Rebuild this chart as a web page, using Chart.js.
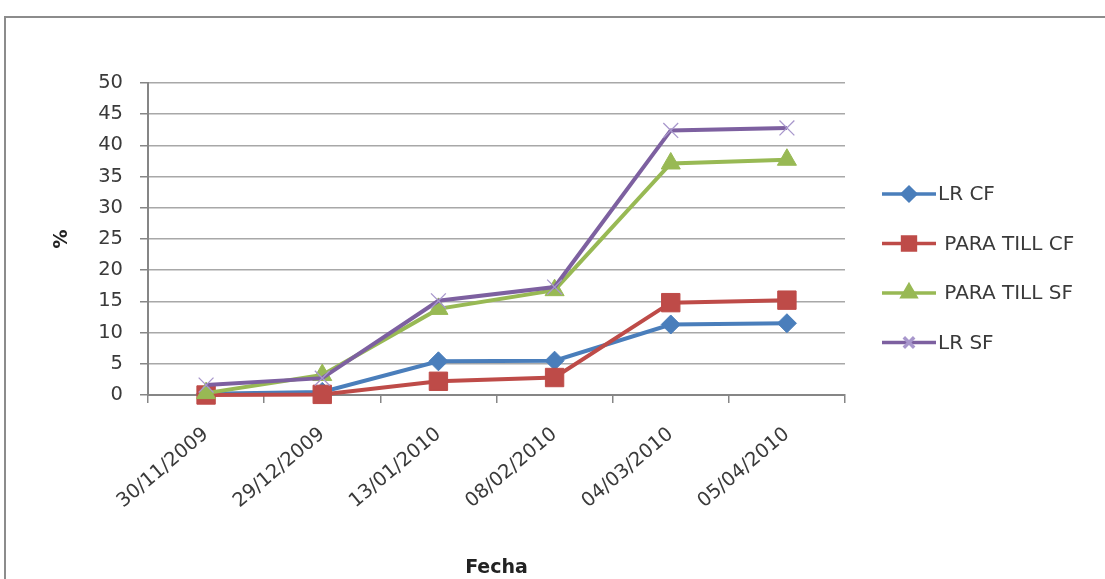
<!DOCTYPE html>
<html>
<head>
<meta charset="utf-8">
<script src="https://cdn.jsdelivr.net/npm/chart.js@4/dist/chart.umd.min.js"></script>
<style>
  html, body { margin: 0; padding: 0; background: #ffffff; }
  #wrap { position: relative; width: 1105px; height: 579px; }
</style>
</head>
<body>
<div id="wrap"><canvas id="c" width="1105" height="579"></canvas></div>
<script>
// Sampling dates (category axis)
const fechas = ['30/11/2009', '29/12/2009', '13/01/2010', '08/02/2010', '04/03/2010', '05/04/2010'];

// Percentages per treatment
const lrCF = [0.2, 0.5, 5.4, 5.5, 11.3, 11.5];
const paraTillCF = [0.0, 0.1, 2.2, 2.8, 14.8, 15.2];
const paraTillSF = [0.3, 3.2, 13.8, 16.8, 37.1, 37.7];
const lrSF = [1.6, 2.7, 15.1, 17.3, 42.4, 42.8];

// Series names as shown in the legend
const seriesNames = ['LR CF', ' PARA TILL CF', ' PARA TILL SF', 'LR SF'];

// Value axis range
const yMin = 0, yMax = 50, yStep = 5;

const FONT = 'DejaVu Sans';
const TEXT = '#3a3a3a';
const AXIS = '#868686';

function series(label, data, color, style, radius, order, markerColor, markerWidth) {
  return {
    label, data, order,
    borderColor: color,
    backgroundColor: color,
    borderWidth: 4,
    tension: 0,
    fill: false,
    clip: false,
    pointStyle: style,
    pointRadius: radius,
    pointHoverRadius: radius,
    pointBackgroundColor: markerColor || color,
    pointBorderColor: markerColor || color,
    pointBorderWidth: markerWidth || 1
  };
}

// Outer frame (top and left edges) on a white background
const framePlugin = {
  id: 'frame',
  beforeDraw(chart) {
    const ctx = chart.ctx;
    ctx.save();
    ctx.fillStyle = '#ffffff';
    ctx.fillRect(0, 0, chart.width, chart.height);
    ctx.strokeStyle = '#8c8c8c';
    ctx.lineWidth = 2;
    ctx.beginPath();
    ctx.moveTo(5, chart.height);
    ctx.lineTo(5, 17);
    ctx.lineTo(chart.width, 17);
    ctx.stroke();
    ctx.restore();
  }
};

// Legend to the right of the plot: line sample with marker, then name
const sideLegend = {
  id: 'sideLegend',
  afterDraw(chart) {
    const ctx = chart.ctx;
    const area = chart.chartArea;
    const x0 = area.right + 37;
    const x1 = x0 + 54;
    const top = area.top + 111;
    const gap = 49.5;
    ctx.save();
    chart.data.datasets.forEach((ds, i) => {
      const y = top + i * gap;
      ctx.strokeStyle = ds.borderColor;
      ctx.lineWidth = 3.5;
      ctx.beginPath();
      ctx.moveTo(x0, y);
      ctx.lineTo(x1, y);
      ctx.stroke();
      ctx.fillStyle = ds.pointBackgroundColor;
      ctx.strokeStyle = ds.pointBorderColor;
      Chart.helpers.drawPoint(ctx, {
        pointStyle: ds.pointStyle,
        radius: ds.pointRadius * 0.7,
        rotation: 0,
        borderWidth: ds.pointBorderWidth
      }, (x0 + x1) / 2, y);
      ctx.fillStyle = TEXT;
      ctx.font = '20px "' + FONT + '"';
      ctx.textAlign = 'left';
      ctx.textBaseline = 'middle';
      ctx.fillText(ds.label, x1 + 2, y + 1);
    });
    ctx.restore();
  }
};

new Chart(document.getElementById('c'), {
  type: 'line',
  data: {
    labels: fechas,
    datasets: [
      series(seriesNames[0], lrCF, '#4A7EBB', 'rectRot', 9.5, 4),
      series(seriesNames[1], paraTillCF, '#BE4B48', 'rect', 13, 3),
      series(seriesNames[2], paraTillSF, '#98B954', 'triangle', 11, 2),
      series(seriesNames[3], lrSF, '#7D60A0', 'crossRot', 10.5, 1, '#a897cc', 1.3)
    ]
  },
  options: {
    responsive: false,
    animation: false,
    devicePixelRatio: 1,
    layout: { padding: { top: 83, right: 260, left: 0, bottom: 0 } },
    plugins: {
      legend: { display: false },
      tooltip: { enabled: false }
    },
    scales: {
      x: {
        type: 'category',
        offset: true,
        grid: {
          offset: true,
          drawOnChartArea: false,
          drawTicks: true,
          tickLength: 8,
          tickColor: AXIS,
          lineWidth: 1.5
        },
        border: { color: AXIS, width: 2 },
        ticks: {
          autoSkip: false,
          minRotation: 40,
          maxRotation: 40,
          padding: 20,
          color: TEXT,
          font: { family: FONT, size: 19.5 }
        },
        title: {
          display: true,
          text: 'Fecha',
          color: '#222222',
          font: { family: FONT, size: 19, weight: 'bold' },
          padding: { top: 0, bottom: 0 }
        },
        afterFit(scale) { scale.height = 184; }
      },
      y: {
        min: yMin,
        max: yMax,
        grid: {
          color: '#a8a8a8',
          lineWidth: 1.5,
          tickLength: 8,
          tickColor: AXIS
        },
        border: { color: AXIS, width: 2 },
        ticks: {
          stepSize: yStep,
          padding: 17,
          color: TEXT,
          font: { family: FONT, size: 19.5 }
        },
        title: {
          display: true,
          text: '%',
          color: '#222222',
          font: { family: FONT, size: 19, weight: 'bold' },
          padding: { top: 51, bottom: 0 }
        },
        afterFit(scale) { scale.width = 148; }
      }
    }
  },
  plugins: [framePlugin, sideLegend]
});
</script>
</body>
</html>
